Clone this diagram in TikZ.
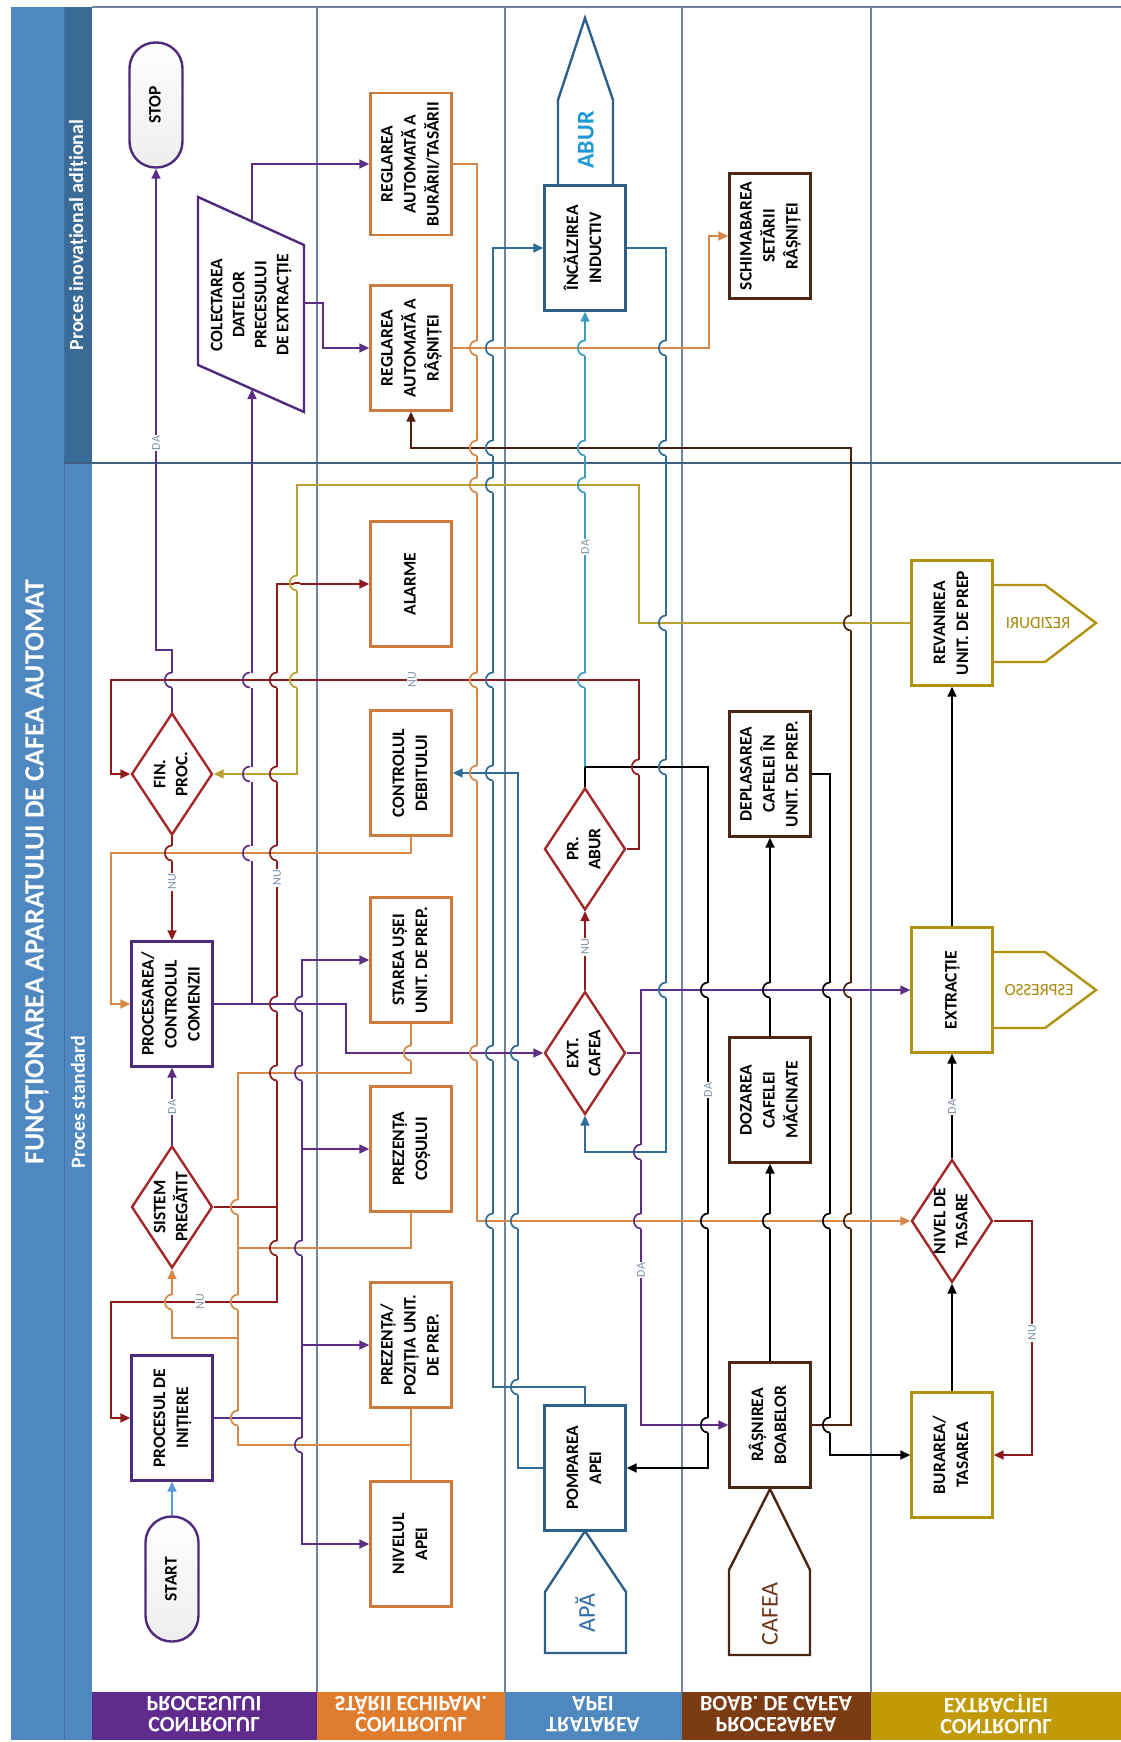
\documentclass[tikz,border=0pt]{standalone}
\usepackage{fontspec}
\setmainfont{Carlito}
\usepackage{graphicx}
\usetikzlibrary{arrows.meta,shapes.geometric}
\definecolor{strip}{HTML}{4F87C0}
\definecolor{stripdk}{HTML}{3A6A96}
\definecolor{stripln}{HTML}{3E6FA3}
\definecolor{gridln}{HTML}{6F849C}
\definecolor{sepln}{HTML}{3F5F82}
\definecolor{lanepur}{HTML}{5F2B8C}
\definecolor{laneora}{HTML}{E07C2E}
\definecolor{lanebl}{HTML}{4F87BF}
\definecolor{lanebr}{HTML}{7B3C14}
\definecolor{lanegd}{HTML}{C29A05}
\definecolor{bxpurple}{HTML}{4E2A7C}
\definecolor{bxorange}{HTML}{CD7B3D}
\definecolor{bxblue}{HTML}{2D5F88}
\definecolor{bxbrown}{HTML}{4B2614}
\definecolor{bxgold}{HTML}{B0920F}
\definecolor{dred}{HTML}{A3282A}
\definecolor{lnpurple}{HTML}{5D2E86}
\definecolor{lnred}{HTML}{8E1B1B}
\definecolor{lnorange}{HTML}{D4894A}
\definecolor{lnblue}{HTML}{2F6D97}
\definecolor{lncyan}{HTML}{3B9CC4}
\definecolor{lnolive}{HTML}{B9A132}
\definecolor{lnbrown}{HTML}{4A1F0E}
\definecolor{lnblack}{HTML}{000000}
\definecolor{lnstart}{HTML}{5B9BD5}
\definecolor{txabur}{HTML}{1E98D4}
\definecolor{txapa}{HTML}{2F6BA6}
\definecolor{txcafea}{HTML}{6B3519}
\definecolor{txgold}{HTML}{A8870B}
\definecolor{lblgray}{HTML}{7E8FA6}
\newcommand{\rt}[1]{\rotatebox{90}{\begin{tabular}{@{}c@{}}#1\end{tabular}}}
\newcommand{\hop}[4]{%
  \fill[white] (#1-2.6,#2-7.5) rectangle (#1+2.6,#2+7.5);
  \draw[ln,draw=#4] (#1-3,#2) -- (#1+3,#2);
  \draw[ln,draw=#3] (#1,#2-7.5) .. controls (#1-9.5,#2-7.5) and (#1-9.5,#2+7.5) .. (#1,#2+7.5);}

\begin{document}
\begin{tikzpicture}[x={(1pt,0pt)},y={(0pt,-1pt)},>={Triangle[length=10pt,width=9pt]},
  box/.style={draw,line width=2.4pt,fill=white,minimum width=81pt,minimum height=125pt,inner sep=0pt,font=\bfseries\fontsize{17.5}{23}\selectfont},
  term/.style={box,draw=bxpurple,rounded corners=26pt,minimum width=53pt,top color=white,bottom color=gray!14},
  decis/.style={diamond,draw=dred,line width=2.4pt,fill=white,minimum width=81pt,minimum height=122pt,inner sep=0pt},
  dtxt/.style={inner sep=0pt,font=\bfseries\fontsize{17.5}{22}\selectfont},
  lbl/.style={fill=white,inner sep=1pt,rotate=90,text=lblgray,font=\fontsize{12}{12}\selectfont},
  lane/.style={text=white,align=center,yscale=-1,inner sep=0pt,font=\bfseries\fontsize{22}{21}\selectfont},
  ln/.style={line width=1.7pt},
  cp/.style={ln,draw=lnpurple}, cr/.style={ln,draw=lnred}, co/.style={ln,draw=lnorange},
  cb/.style={ln,draw=lnblue}, cc/.style={ln,draw=lncyan}, ck/.style={ln,draw=lnblack},
  cy/.style={ln,draw=lnolive}, cn/.style={ln,draw=lnbrown}]
\useasboundingbox (0,0) rectangle (1121,1742);
% lanes
\fill[strip] (11,7) rectangle (64,1740);
\fill[strip] (64,463) rectangle (92,1740);
\fill[stripdk] (64,7) rectangle (92,463);
\draw[stripln,line width=1pt] (64,7) -- (64,1740);
\draw[gridln,line width=1.2pt] (92,7) -- (1121,7);
\foreach \xx in {317,505,682,871} \draw[gridln,line width=1.4pt] (\xx,7) -- (\xx,1692);
\draw[sepln,line width=2pt] (64,463) -- (1121,463);
\fill[lanepur] (92,1692) rectangle (317,1740);
\fill[laneora] (317,1692) rectangle (505,1740);
\fill[lanebl] (505,1692) rectangle (682,1740);
\fill[lanebr] (682,1692) rectangle (871,1740);
\fill[lanegd] (871,1692) rectangle (1121,1740);
\node[rotate=90,text=white,font=\bfseries\fontsize{28}{30}\selectfont] (title) at (37,872) {FUNCȚIONAREA APARATULUI DE CAFEA AUTOMAT};
\node[rotate=90,text=white,font=\bfseries\fontsize{20}{22}\selectfont] (hdinov) at (78,235) {Proces inovațional adițional};
\node[rotate=90,text=white,font=\bfseries\fontsize{20}{22}\selectfont] (hdstd) at (78,1102) {Proces standard};
\node[lane] (lproc) at (204,1714) {CONTROLUL\\PROCESULUI};
\node[lane] (lstare) at (411,1714) {CONTROLUL\\STĂRII ECHIPAM.};
\node[lane] (lapa) at (593,1714) {TRATAREA\\APEI};
\node[lane] (lboab) at (776,1714) {PROCESAREA\\BOAB. DE CAFEA};
\node[lane] (lextr) at (996,1714) {CONTROLUL\\EXTRACȚIEI};
% controlul procesului
\node[term] (start) at (172,1579) {\rt{START}};
\node[box,draw=bxpurple] (init) at (172,1418) {\rt{PROCESUL DE\\INIȚIERE}};
\node[decis] (sysp) at (172,1207) {};
\node[dtxt] (sysp-t) at (sysp) {\rt{SISTEM\\PREGĂTIT}};
\node[box,draw=bxpurple] (cmd) at (172,1004) {\rt{PROCESAREA/\\CONTROLUL\\COMENZII}};
\node[decis] (fin) at (172,774) {};
\node[dtxt] (fin-t) at (fin) {\rt{FIN.\\PROC.}};
\node[term] (stop) at (156,105) {\rt{STOP}};
\draw[bxpurple,line width=2.4pt,fill=white] (198,197) -- (304,245) -- (304,412) -- (198,365) -- cycle;
\node[dtxt] (colect) at (251,305) {\rt{COLECTAREA\\DATELOR\\PRECESULUI\\DE EXTRACȚIE}};
\coordinate (colbot) at (252,389);
\coordinate (coltop) at (252,221);
\coordinate (colrt) at (304,303);
% controlul starii echipamentului
\node[box,draw=bxorange,minimum height=142pt] (regbur) at (411,164) {\rt{REGLAREA\\AUTOMATĂ A\\BURĂRII/TASĂRII}};
\node[box,draw=bxorange] (regras) at (411,348) {\rt{REGLAREA\\AUTOMATĂ A\\RÂȘNIȚEI}};
\node[box,draw=bxorange] (alarm) at (411,584) {\rt{ALARME}};
\node[box,draw=bxorange] (debit) at (411,773) {\rt{CONTROLUL\\DEBITULUI}};
\node[box,draw=bxorange] (usa) at (411,960) {\rt{STAREA UȘEI\\UNIT. DE PREP.}};
\node[box,draw=bxorange] (cos) at (411,1149) {\rt{PREZENȚA\\COȘULUI}};
\node[box,draw=bxorange] (pozu) at (411,1345) {\rt{PREZENȚA/\\POZIȚIA UNIT.\\DE PREP.}};
\node[box,draw=bxorange] (nivapa) at (411,1544) {\rt{NIVELUL\\APEI}};
% tratarea apei
\draw[bxblue,line width=2.4pt,fill=white] (558,186) -- (558,100) -- (585,18) -- (613,100) -- (613,186);
\node[rotate=90,text=txabur,font=\bfseries\fontsize{24}{24}\selectfont] (abur) at (586,140) {ABUR};
\node[box,draw=bxblue] (incalz) at (585,248) {\rt{ÎNCĂLZIREA\\INDUCTIV}};
\node[decis] (prab) at (585,849) {};
\node[dtxt] (prab-t) at (prab) {\rt{PR.\\ABUR}};
\node[decis,minimum height=123pt] (extc) at (585,1053) {};
\node[dtxt] (extc-t) at (extc) {\rt{EXT.\\CAFEA}};
\draw[bxblue,line width=2.4pt,fill=white] (545,1653) -- (545,1592) -- (585,1531) -- (626,1592) -- (626,1653) -- cycle;
\node[rotate=90,text=txapa,font=\fontsize{24}{24}\selectfont] (apa) at (585,1613) {APĂ};
\node[box,draw=bxblue] (pomp) at (585,1468) {\rt{POMPAREA\\APEI}};
% procesarea boabelor
\node[box,draw=bxbrown] (schimb) at (770,236) {\rt{SCHIMABAREA\\SETĂRII\\RÂȘNIȚEI}};
\node[box,draw=bxbrown] (depl) at (770,774) {\rt{DEPLASAREA\\CAFELEI ÎN\\UNIT. DE PREP.}};
\node[box,draw=bxbrown] (doz) at (770,1100) {\rt{DOZAREA\\CAFELEI\\MĂCINATE}};
\draw[bxbrown,line width=2.4pt,fill=white] (729,1655) -- (729,1570) -- (770,1489) -- (810,1570) -- (810,1655) -- cycle;
\node[rotate=90,text=txcafea,font=\fontsize{24}{24}\selectfont] (cafea) at (770,1614) {CAFEA};
\node[box,draw=bxbrown] (rasn) at (770,1425) {\rt{RÂȘNIREA\\BOABELOR}};
% controlul extractiei
\draw[bxgold,line width=2.4pt] (993,585) -- (1045,585) -- (1096,623) -- (1045,662) -- (993,662);
\node[xscale=-1,text=txgold,font=\fontsize{17}{17}\selectfont] (rezid) at (1038,623) {REZIDURI};
\node[box,draw=bxgold] (revan) at (952,623) {\rt{REVANIREA\\UNIT. DE PREP}};
\draw[bxgold,line width=2.4pt] (993,952) -- (1045,952) -- (1096,990) -- (1045,1028) -- (993,1028);
\node[xscale=-1,text=txgold,font=\fontsize{17}{17}\selectfont] (espr) at (1039,990) {ESPRESSO};
\node[box,draw=bxgold] (extr) at (952,990) {\rt{EXTRACȚIE}};
\node[decis,minimum height=123pt] (nivt) at (952,1221) {};
\node[dtxt] (nivt-t) at (nivt) {\rt{NIVEL DE\\TASARE}};
\node[box,draw=bxgold] (bur) at (952,1455) {\rt{BURAREA/\\TASAREA}};
% purple
\draw[ln,draw=lnstart,->] (start) -- (init);
\coordinate (pbus) at (302,1418);
\draw[cp] (init.east) -- (pbus);
\draw[cp,->] (pbus) |- (nivapa.west);
\draw[cp,->] (pbus) |- (pozu.west);
\draw[cp,->] (pbus) |- (cos.west);
\draw[cp,->] (pbus) |- (usa.west);
\draw[cp,->] (sysp) -- (cmd);
\coordinate (cmdj) at (346,1004);
\draw[cp,->] (cmd.east) -- (cmdj) |- (extc.west);
\coordinate (colj) at (252,1004);
\draw[cp,->] (colj) -- (colbot);
\draw[cp,->] (coltop) |- (regbur.west);
\draw[cp,->] (colrt) -- (323,303) |- (regras.west);
\draw[cp,->] (fin.north) -- (172,650) -| (stop.south);
\coordinate (extj) at (641,1053);
\draw[cp] (extc.east) -- (extj);
\draw[cp,->] (extj) |- (extr.west);
\draw[cp,->] (extj) |- (rasn.west);
% red
\draw[cr,->] (fin) -- (cmd);
\coordinate (spj) at (277,1207);
\draw[cr] (sysp.east) -- (spj);
\draw[cr,->] (spj) |- (alarm.west);
\draw[cr,->] (spj) -- (277,1302) -- (111,1302) |- (init.west);
\draw[cr,->] (prab.east) -- (639,849) -- (639,680) -- (111,680) |- (fin.west);
\draw[cr,->] (extc) -- (prab);
\draw[cr,->] (nivt.east) -- (1032,1221) |- (bur.east);
% orange
\draw[co] (nivapa) -- (pozu);
\coordinate (obus) at (238,1445);
\draw[co] (411,1445) -- (obus) |- (411,1073) -- (usa.south);
\draw[co] (238,1248) -| (cos.south);
\draw[co,->] (238,1338) -| (sysp.south);
\draw[co,->] (regbur.east) -- (477,164) |- (nivt.west);
\draw[co,->] (regras.east) -- (709,348) |- (schimb.west);
\draw[co,->] (debit.south) -- (411,853) -- (111,853) |- (cmd.west);
% blue
\draw[cb,->] (incalz.east) -- (666,248) -- (666,1152) -| (extc.south);
\draw[cb,->] (pomp.north) -- (585,1387) -- (493,1387) |- (incalz.west);
\draw[cb,->] (pomp.west) -- (518,1468) |- (debit.east);
\coordinate (abj) at (585,767);
\draw[ck] (prab.north) -- (abj);
\draw[cc,->] (abj) -- (incalz.south);
\draw[ck,->] (abj) -- (708,767) |- (pomp.east);
% black, olive, brown
\draw[ck,->] (rasn) -- (doz);
\draw[ck,->] (doz) -- (depl);
\draw[ck,->] (depl.east) -- (830,774) |- (bur.west);
\draw[ck,->] (bur) -- (nivt);
\draw[ck,->] (nivt) -- (extr);
\draw[ck,->] (extr) -- (revan);
\draw[cy,->] (revan.west) -- (639,623) -- (639,485) -- (297,485) |- (fin.east);
\draw[cn,->] (rasn.east) -- (851,1425) -- (851,448) -| (regras.south);
% line jumps
\foreach \hx/\hy/\vc/\hc in {172/680/lnpurple/lnred, 250/680/lnpurple/lnred, 277/680/lnred/lnred,
  297/680/lnolive/lnred, 477/680/lnorange/lnred, 493/680/lnblue/lnred, 585/680/lncyan/lnred,
  477/485/lnorange/lnolive, 493/485/lnblue/lnolive, 585/485/lncyan/lnolive,
  250/774/lnpurple/lnolive, 277/774/lnred/lnolive, 666/623/lnblue/lnolive, 851/623/lnbrown/lnolive,
  172/853/lnred/lnorange, 250/853/lnpurple/lnorange, 277/853/lnred/lnorange,
  277/1004/lnred/lnpurple, 302/1004/lnpurple/lnpurple,
  411/1053/lnorange/lnpurple, 477/1053/lnorange/lnpurple, 493/1053/lnblue/lnpurple, 518/1053/lnblue/lnpurple,
  277/1073/lnred/lnorange, 302/1073/lnpurple/lnorange, 277/1248/lnred/lnorange, 302/1248/lnpurple/lnorange,
  238/1207/lnorange/lnred, 172/1302/lnorange/lnred, 238/1302/lnorange/lnred,
  238/1418/lnorange/lnpurple, 302/1445/lnpurple/lnorange,
  493/1221/lnblue/lnorange, 518/1221/lnblue/lnorange, 641/1221/lnpurple/lnorange, 708/1221/lnblack/lnorange,
  770/1221/lnblack/lnorange, 830/1221/lnblack/lnorange, 851/1221/lnbrown/lnorange,
  666/990/lnblue/lnpurple, 708/990/lnblack/lnpurple, 770/990/lnblack/lnpurple, 830/990/lnblack/lnpurple, 851/990/lnbrown/lnpurple,
  708/1425/lnblack/lnpurple, 830/1425/lnblack/lnbrown,
  477/448/lnorange/lnbrown, 493/448/lnblue/lnbrown, 585/448/lncyan/lnbrown, 666/448/lnblue/lnbrown,
  477/348/lnorange/lnorange, 493/348/lnblue/lnorange, 585/348/lncyan/lnorange, 666/348/lnblue/lnorange,
  641/1152/lnpurple/lnblue, 518/1387/lnblue/lnblue, 477/773/lnorange/lnblue, 493/773/lnblue/lnblue,
  639/767/lnred/lnblack, 666/767/lnblue/lnblack, 297/583/lnolive/lnred}
  {\hop{\hx}{\hy}{\vc}{\hc}}
% labels
\node[lbl] (da1) at (156,443) {DA};
\node[lbl] (da2) at (172,1107) {DA};
\node[lbl] (da3) at (585,547) {DA};
\node[lbl] (da4) at (641,1270) {DA};
\node[lbl] (da5) at (708,1090) {DA};
\node[lbl] (da6) at (952,1107) {DA};
\node[lbl] (nu1) at (172,882) {NU};
\node[lbl] (nu2) at (277,878) {NU};
\node[lbl] (nu3) at (200,1302) {NU};
\node[lbl] (nu4) at (412,680) {NU};
\node[lbl] (nu5) at (585,947) {NU};
\node[lbl] (nu6) at (1032,1333) {NU};
\end{tikzpicture}
\end{document}
